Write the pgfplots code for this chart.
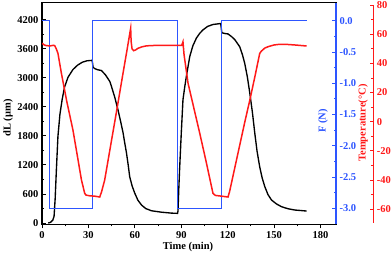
\documentclass[border=0pt]{standalone}
\usepackage{fontspec}
\setmainfont{Liberation Serif}
\usepackage{pgfplots}
\pgfplotsset{compat=1.18}
\definecolor{bluec}{RGB}{45,85,255}
\definecolor{redc}{RGB}{255,25,25}
\begin{document}
\begin{tikzpicture}[font=\fontsize{10.5}{12}\selectfont\bfseries]
\useasboundingbox (0,0) rectangle (392pt,254pt);
\pgfplotsset{common/.style={scale only axis, width=294pt, xmin=0, xmax=190,
  /pgf/number format/assume math mode=true,
  tick label style={font=\fontsize{10.5}{12}\selectfont\bfseries},
  major tick length=3.8pt, minor tick length=2pt}}
% main axis: dL
\begin{axis}[common, at={(42pt,29.5pt)}, anchor=south west, height=221.8pt,
  ymin=-30, ymax=4550,
  xtick={0,30,60,90,120,150,180}, minor xtick={15,45,75,105,135,165},
  ytick={0,600,1200,1800,2400,3000,3600,4200},
  minor ytick={300,900,1500,2100,2700,3300,3900},
  xtick pos=left, ytick pos=left, xtick align=outside, ytick align=inside,
  axis line style={line width=1.2pt}, tick style={black, line width=0.9pt},
  scaled y ticks=false, yticklabel style={/pgf/number format/1000 sep={}}]
\addplot[black, line width=1.35pt] coordinates {
(4,0)(5.5,15)(7,60)(7.8,140)(8.5,500)(9.3,1100)(10.3,1790)(11.6,2250)(13,2545)
(14.5,2800)(16.8,3010)(20,3170)(23,3260)(26,3320)(29,3350)(32.4,3360)
(33,3220)(34,3190)(36,3165)(38.4,3150)(41,3060)(43.8,2925)(44.9,2820)(47,2600)
(49.1,2338)(50.8,2100)(52.4,1862)(53.5,1650)(54.6,1448)(55.7,1200)(56.7,952)
(58.3,760)(59.9,620)(62,470)(64.3,372)(67,300)(70.7,254)(77,225)(83.6,205)(87.6,200)
(87.9,250)(88.4,700)(89,1160)(90,1850)(91.1,2545)(92.2,2800)(93.3,3030)(95.5,3440)
(97.5,3660)(99.8,3820)(102,3920)(104.1,3990)(107,4060)(110.5,4100)(115.5,4120)
(116.2,3930)(118,3915)(120.2,3905)(122.5,3850)(124.6,3787)(127.8,3640)(129.5,3480)
(131,3300)(132.7,3020)(134.3,2683)(136,2280)(137.5,1860)(139,1480)(140.7,1160)
(142.3,930)(144,750)(146,590)(148.3,476)(151.5,395)(154.8,337)(159,295)(163.4,269)(171,248)
};
\end{axis}
% blue axis: F
\begin{axis}[common, at={(42pt,29.5pt)}, anchor=south west, height=221.8pt,
  ymin=-3.26, ymax=0.29, hide x axis, axis y line*=right,
  ytick={-3,-2.5,-2,-1.5,-1,-0.5,0},
  minor ytick={-2.75,-2.25,-1.75,-1.25,-0.75,-0.25},
  ytick align=inside,
  y axis line style={bluec, line width=1.2pt},
  ytick style={bluec, line width=0.9pt},
  yticklabel style={bluec, /pgf/number format/.cd, fixed, fixed zerofill, precision=1}]
\addplot[bluec, line width=0.9pt] coordinates {
(0,0)(5,0)(5,-3)(32.6,-3)(32.6,0)(87.6,0)(87.6,-3)(116,-3)(116,0)(171,0)
};
\end{axis}
% red data axis
\begin{axis}[common, at={(42pt,31pt)}, anchor=south west, height=218pt,
  ymin=-69.4, ymax=80, hide axis]
\addplot[redc, line width=1.5pt] coordinates {
(0,53.8)(1.5,52.6)(3,52.1)(5.5,52)(7.5,52.4)(8.3,52)(9.2,50)(10.3,46.9)(12.5,33.4)
(16,14)(20,-5.7)(23.3,-26.2)(25.5,-39.9)(27.6,-49.1)(28.5,-50.3)(31,-50.8)(34,-51)
(37.3,-51.6)(38.5,-48)(40.5,-40)(44,-18.5)(48,6)(52,31)(55,49.5)(57.3,64)(57.6,55)
(58.2,50)(59.2,48.7)(60.5,49.2)(62,50.3)(64.5,51.3)(67.5,52)(75,52.4)(85,52.4)
(90.3,52.3)(91.1,54.8)(91.8,46)(94.4,26.3)(98,10)(101.9,-7.7)(106,-27)(110.5,-49.1)
(112,-50.5)(116,-51)(120.2,-51.6)(121.2,-48)(124.5,-32)(127.8,-16)(131,-0.5)
(134.3,14.8)(137.5,30.5)(140.7,46.8)(141.7,48.3)(144,50.5)(146.3,51.5)(150,52.6)
(153,53)(158,53)(163.4,52.6)(171,51.9)
};
\end{axis}
% red scale axis
\begin{axis}[scale only axis, width=294pt, height=218pt, at={(79.3pt,31pt)}, anchor=south west,
  xmin=0, xmax=1, ymin=-69.4, ymax=80, hide x axis, axis y line*=right,
  /pgf/number format/assume math mode=true,
  tick label style={font=\fontsize{10.5}{12}\selectfont\bfseries},
  major tick length=3.8pt, minor tick length=2pt,
  ytick={-60,-40,-20,0,20,40,60,80}, minor ytick={-50,-30,-10,10,30,50,70},
  ytick align=inside,
  y axis line style={redc, line width=1.2pt},
  ytick style={redc, line width=0.9pt},
  yticklabel style={redc}]
\end{axis}
\node[rotate=90] at (8pt,136pt) {dL (μm)};
\node at (188pt,7.3pt) {Time (min)};
\node[rotate=90, text=bluec] at (323pt,133pt) {F (N)};
\node[rotate=90, text=redc] at (363pt,131pt) {Temperature(°C)};
\end{tikzpicture}
\end{document}
